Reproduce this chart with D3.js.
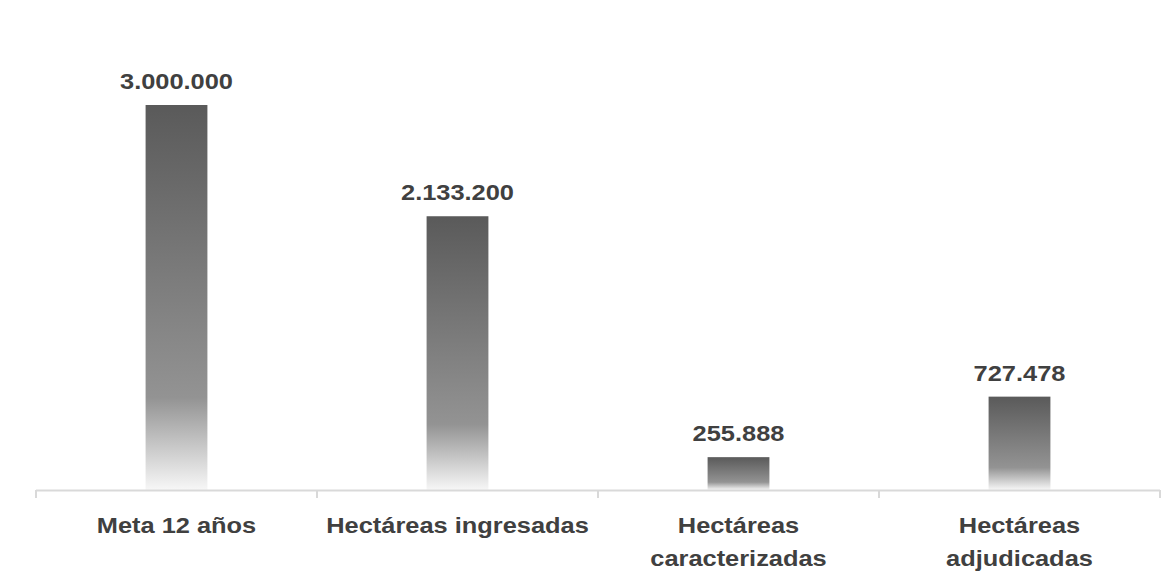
<!DOCTYPE html>
<html>
<head>
<meta charset="utf-8">
<script src="https://cdn.jsdelivr.net/npm/d3@7/dist/d3.min.js"></script>
<style>
  html, body { margin: 0; padding: 0; background: #fff; }
  svg { display: block; }
  text { font-family: "Liberation Sans", Arial, sans-serif; font-weight: bold; fill: #404040; }
</style>
</head>
<body>
<svg id="chart" width="1176" height="576"></svg>
<script>
// Land figures (hectares)
const categories = ["Meta 12 años", "Hectáreas ingresadas", "Hectáreas caracterizadas", "Hectáreas adjudicadas"];
const categoryLines = [["Meta 12 años"], ["Hectáreas ingresadas"], ["Hectáreas", "caracterizadas"], ["Hectáreas", "adjudicadas"]];
const values = [3000000, 2133200, 255888, 727478];
const valueLabels = ["3.000.000", "2.133.200", "255.888", "727.478"];

const svg = d3.select("#chart");
const margin = { left: 36, right: 16, top: 105, bottom: 86 };
const width = 1176, height = 576;
const baseline = height - margin.bottom;
const fontSize = 22, stretch = 1.155;

const x = d3.scaleBand()
  .domain(categories)
  .range([margin.left, width - margin.right])
  .paddingInner(0.78)
  .paddingOuter(0.39);

const y = d3.scaleLinear()
  .domain([0, 3000000])
  .range([baseline, margin.top]);

const cx = c => x(c) + x.bandwidth() / 2;

// Vertical gradient: dark at the top fading to white at the bottom of each bar
const defs = svg.append("defs");
const grad = defs.append("linearGradient")
  .attr("id", "barFill")
  .attr("x1", 0).attr("y1", 0).attr("x2", 0).attr("y2", 1);
grad.append("stop").attr("offset", "0%").attr("stop-color", "#5a5a5a");
grad.append("stop").attr("offset", "76%").attr("stop-color", "#939393");
grad.append("stop").attr("offset", "100%").attr("stop-color", "#f7f7f7");

svg.append("g").selectAll("rect")
  .data(values)
  .join("rect")
  .attr("x", (d, i) => x(categories[i]))
  .attr("width", x.bandwidth())
  .attr("y", d => y(d))
  .attr("height", d => baseline - y(d))
  .attr("fill", "url(#barFill)");

// Value labels above the bars
svg.append("g").selectAll("text")
  .data(values)
  .join("text")
  .attr("transform", (d, i) => `translate(${cx(categories[i])},${y(d) - 16}) scale(${stretch},1)`)
  .attr("text-anchor", "middle")
  .style("font-size", fontSize + "px")
  .text((d, i) => valueLabels[i]);

// Category axis: line with outward ticks at the band boundaries
const axisG = svg.append("g");
const bounds = d3.range(categories.length + 1).map(i => margin.left + i * (width - margin.left - margin.right) / categories.length);
axisG.append("line")
  .attr("x1", bounds[0]).attr("x2", bounds[bounds.length - 1])
  .attr("y1", baseline + 0.5).attr("y2", baseline + 0.5)
  .attr("stroke", "#d9d9d9").attr("stroke-width", 2);
axisG.selectAll("line.tick")
  .data(bounds)
  .join("line")
  .attr("class", "tick")
  .attr("x1", d => d).attr("x2", d => d)
  .attr("y1", baseline).attr("y2", baseline + 8)
  .attr("stroke", "#d9d9d9").attr("stroke-width", 2);

// Category labels (wrapped where needed)
const lab = svg.append("g").selectAll("text")
  .data(categories)
  .join("text")
  .attr("transform", d => `translate(${cx(d)},0) scale(${stretch},1)`)
  .attr("text-anchor", "middle")
  .style("font-size", fontSize + "px");
lab.each(function(d, i) {
  const lines = categoryLines[i];
  const t = d3.select(this);
  lines.forEach((ln, k) => {
    t.append("tspan")
      .attr("x", 0)
      .attr("y", baseline + 43 + k * 33)
      .text(ln);
  });
});
</script>
</body>
</html>
